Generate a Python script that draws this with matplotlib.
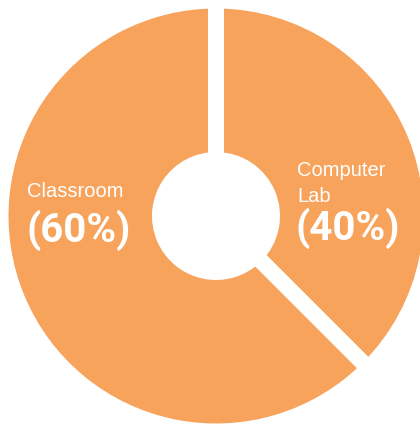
import matplotlib.pyplot as plt

# data
labels = ["Computer\nLab", "Classroom"]
pct_labels = ["(40%)", "(60%)"]
# slice sizes as drawn (the boundary sits about 135 degrees from the top)
shares = [37.5, 62.5]
orange = "#f7a35c"

fig = plt.figure(figsize=(4.2, 4.25), dpi=100)
ax = fig.add_axes([0, 0, 1, 1])

# white edge strokes make the gaps between the slices
gap_px = 16
lw = gap_px * 72 / 100
r_out = 207.5 + gap_px / 2
r_in = 64 - gap_px / 2
ax.pie(shares, startangle=90, counterclock=False, radius=r_out,
       colors=[orange, orange],
       wedgeprops=dict(width=r_out - r_in, edgecolor="white", linewidth=lw))

# axis units are pixels, center of the donut at (216, 216) from top left
ax.set_xlim(-216, 420 - 216)
ax.set_ylim(216 - 425, 216)
ax.set_aspect("equal")
ax.axis("off")

small = dict(color="white", fontsize=14.5, family="Liberation Sans",
             ha="left", va="baseline")
big = dict(color="white", fontsize=29, family="Roboto",
           weight="bold", ha="left", va="baseline")

# labels
ax.text(-189, 19, labels[1], **small)
ax.text(-190, -26, pct_labels[1], **big)
for i, line in enumerate(labels[0].split("\n")):
    ax.text(81, 40 - 26 * i, line, **small)
ax.text(80, -24, pct_labels[0], **big)

fig.savefig("out.png", dpi=100)
